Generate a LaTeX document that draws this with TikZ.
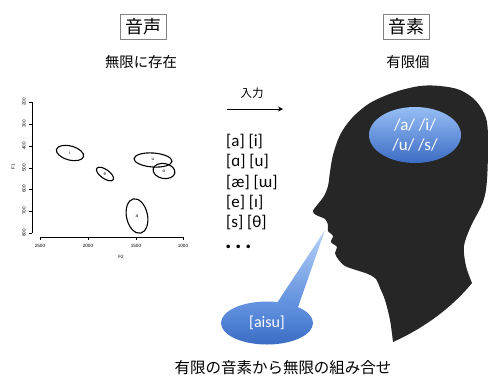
\documentclass[tikz,border=0pt]{standalone}
\usepackage{fontspec}
\setmainfont{Carlito}
\newfontfamily\jpfont{Noto Sans CJK JP}
\newfontfamily\plotfont{Liberation Sans}
\usetikzlibrary{arrows.meta,shapes.geometric,calc}
\definecolor{headgray}{RGB}{38, 38, 38}
\definecolor{framegray}{RGB}{130, 130, 130}
\definecolor{paleblue}{RGB}{150, 190, 245}
\definecolor{midblue}{RGB}{88, 138, 220}
\definecolor{deepblue}{RGB}{60, 108, 196}
\definecolor{mistblue}{RGB}{185, 210, 248}

\tikzset{
  titlebox/.style={draw=framegray, line width=0.8pt, inner xsep=5pt, inner ysep=4pt,
                   font=\jpfont\fontsize{18}{18}\selectfont},
  jptext/.style={font=\jpfont\fontsize{14.4}{15}\selectfont},
  ipa/.style={anchor=west, inner sep=0pt, font=\fontsize{17}{17}\selectfont},
  ticklabel/.style={inner sep=0pt, font=\plotfont\fontsize{4.6}{5}\selectfont},
  vowel/.style={line width=1.1pt},
  vowelmark/.style={inner sep=0pt, font=\plotfont\fontsize{4.6}{5}\selectfont},
  blob/.style={ellipse, inner sep=0pt, text=white, top color=paleblue, bottom color=deepblue},
}

\begin{document}
\begin{tikzpicture}[x=1pt, y=-1pt]
  \useasboundingbox (0,0) rectangle (488,376);

  % headings
  \node[titlebox] (voice)       at (143,27) {音声};
  \node[jptext]   (voicenote)   at (141,62) {無限に存在};
  \node[titlebox] (phoneme)     at (406,27) {音素};
  \node[jptext]   (phonemenote) at (408,62) {有限個};

  % formant chart, F2 against F1
  \draw[line width=0.6pt] (32,102) -- (32,233);
  \draw[line width=0.6pt] (40,237) -- (183,237);
  \foreach \val/\pos in {200/102, 300/124, 400/146, 500/168, 600/189, 700/211, 800/233} {
    \draw[line width=0.5pt] (32,\pos) -- (29,\pos);
    \node[ticklabel, rotate=90] (fone\val) at (24,\pos) {\val};
  }
  \foreach \val/\pos in {2500/40, 2000/88, 1500/136, 1000/183} {
    \draw[line width=0.5pt] (\pos,237) -- (\pos,240);
    \node[ticklabel] (ftwo\val) at (\pos,246) {\val};
  }
  \node[ticklabel, rotate=90] (foneaxis) at (13,167) {F1};
  \node[ticklabel]            (ftwoaxis) at (121,257) {F2};

  \draw[vowel, rotate around={-15:(70,153)}]  (70,153)  ellipse (14 and 7);
  \draw[vowel, rotate around={-35:(105,174)}] (105,174) ellipse (10 and 4.5);
  \draw[vowel, rotate around={-4:(153,160)}]  (153,160) ellipse (19 and 7);
  \draw[vowel, rotate around={-10:(164,171)}] (164,171) ellipse (11 and 7.5);
  \draw[vowel, rotate around={12:(137,216)}]  (137,216) ellipse (10.5 and 17.5);
  \node[vowelmark] (vi) at (70,153)  {i};
  \node[vowelmark] (ve) at (105,174) {e};
  \node[vowelmark] (vu) at (153,159) {u};
  \node[vowelmark] (vo) at (164,171) {o};
  \node[vowelmark] (va) at (137,216) {a};

  % input arrow
  \node[font=\jpfont\fontsize{11.5}{12}\selectfont] (inlabel) at (252,93) {入力};
  \coordinate (inA) at (227,109);
  \coordinate (inB) at (283,109);
  \draw[line width=0.8pt, -{Stealth[length=5pt, width=5pt]}] (inA) -- (inB);

  % sounds heard
  \node[ipa] (ipa1) at (226,142) {[a] [i]};
  \node[ipa] (ipa2) at (226,162) {[ɑ] [u]};
  \node[ipa] (ipa3) at (226,183) {[æ] [ɯ]};
  \node[ipa] (ipa4) at (226,203) {[e] [ɪ]};
  \node[ipa] (ipa5) at (226,223) {[s] [θ]};
  \node[ipa, text height=4pt, text depth=0pt, font=\fontsize{24}{24}\bfseries]
    (ipa6) at (225,246) {.\hspace{3.5pt}.\hspace{3.5pt}.};

  % head in profile
  \fill[headgray] plot[smooth, tension=0.55] coordinates {
      (393,342) (390,320) (385,300) (380,288) (376,279) (368,274) (356,270)
      (345,266) (338,259) (335,253) (337,247) (331,242) (333,236) (328,231)
      (328,225) (325,219) (316,215) (313,211) (318,204) (324,196) (328,186)
      (330,172) (333,155) (340,135) (352,118) (370,103) (395,92) (420,86)
      (440,86) (460,90) (476,101) (486,118) (488,140) (487,180) (483,202)
      (471,226) (464,246) (466,266) (472,283)}
    .. controls (450,310) and (420,330) .. (393,342) -- cycle;

  % stored phonemes
  \node[blob, minimum width=92, minimum height=56, align=center,
        font=\fontsize{17}{20}\selectfont] (store) at (415,135) {/a/ /i/\\/u/ /s/};

  % utterance bubble
  \coordinate (mouth)   at (325,230);
  \coordinate (bubblec) at (267,323);
  \shade[top color=mistblue, bottom color=midblue]
    ($(bubblec)+(8,-17)$) -- (mouth) -- ($(bubblec)+(30,-13)$) -- cycle;
  \node[blob, minimum width=92, minimum height=43, top color=midblue!80!paleblue,
        font=\fontsize{16}{16}\selectfont] (utter) at (bubblec) {[aisu]};

  \node[jptext, font=\jpfont\fontsize{15.5}{16}\selectfont] (summary) at (283,368)
    {有限の音素から無限の組み合せ};
\end{tikzpicture}
\end{document}
